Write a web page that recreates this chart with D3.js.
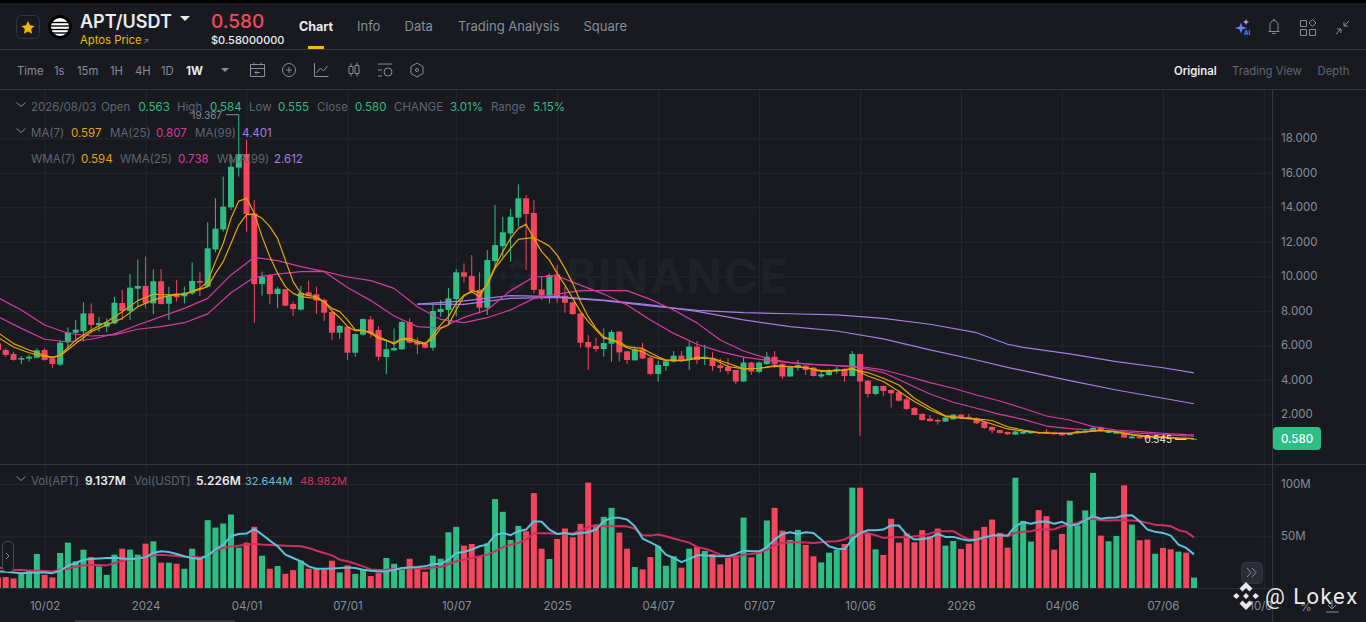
<!DOCTYPE html>
<html>
<head>
  <meta charset="utf-8">
  <style>
    html, body { margin: 0; padding: 0; background: #181a20; overflow: hidden; }
    svg { display: block; font-family: "Inter", "Roboto", sans-serif; }
    .axis path { display: none; }
    .axis line { stroke: none; }
    .axis text { fill: #848e9c; font-family: "Inter", sans-serif; font-size: 11.5px; }
    .grid path { display: none; }
    .grid line { stroke: #252830; stroke-width: 1; }
    .grid text { display: none; }
    .maline { fill: none; stroke-width: 1.2; stroke-linejoin: round; }
    .volline { fill: none; stroke-width: 2; stroke-linejoin: round; }
  </style>
  <script src="https://d3js.org/d3.v7.min.js"></script>
</head>
<body>
<script>
  // weekly candles, 2023-08-21 .. 2026-08-03
  var openValues = [
    6.11,5.73,5.50,5.17,5.23,5.28,5.73,5.25,4.88,6.17,
    6.73,6.81,7.85,7.16,7.08,7.27,8.45,7.99,9.28,9.44,
    8.43,9.71,8.41,9.01,8.84,9.01,9.73,9.40,11.56,12.72,
    14.0,16.30,17.09,13.65,9.55,10.06,8.97,9.26,8.39,8.07,
    9.07,8.96,8.63,7.93,6.73,7.08,5.57,6.62,7.50,6.89,
    5.32,5.71,5.77,7.35,6.23,6.11,5.86,7.93,8.05,8.68,
    10.23,10.02,9.21,8.18,10.89,11.75,12.49,13.40,14.52,13.67,
    9.24,8.91,10.11,8.88,8.49,7.85,6.19,5.96,5.78,6.09,
    6.79,5.65,5.13,5.77,5.28,4.34,4.80,5.05,5.40,5.15,
    5.92,5.23,5.25,4.84,4.75,4.57,3.90,5.0,4.46,4.92,
    5.34,4.92,4.19,4.73,4.82,4.71,4.19,4.28,4.51,4.63,
    4.22,5.50,3.95,3.18,3.64,3.41,3.28,2.87,2.37,2.02,
    1.75,1.67,1.58,1.71,1.98,1.85,1.75,1.54,1.27,1.09,
    .98,.82,.88,.90,.96,.99,.94,.92,.80,.90,
    .96,1.0,1.23,.92,.88,.92,.61,.72,.69,.60,
    .68,.64,.58,.62,.563
  ];
  var closeValues = [
    5.73,5.44,5.15,5.26,5.34,5.71,5.15,4.92,6.15,6.75,
    6.91,7.85,7.18,7.29,7.35,8.47,7.99,9.34,9.44,8.43,
    9.71,8.39,8.86,8.78,9.05,9.73,9.63,11.62,12.76,14.04,
    16.35,17.09,13.61,9.55,9.96,8.97,9.28,8.30,8.10,9.05,
    8.88,8.59,7.89,6.73,7.12,5.57,6.65,7.52,6.69,5.34,
    5.77,5.84,7.35,6.15,6.04,5.86,7.99,8.10,8.72,10.23,
    9.98,9.17,8.18,10.94,11.81,12.55,13.45,14.52,13.61,9.21,
    8.90,10.07,8.86,8.47,7.81,6.15,5.88,5.78,6.13,6.77,
    5.59,5.15,5.77,5.24,4.34,4.86,5.07,5.40,5.15,5.92,
    5.15,5.34,4.80,4.69,4.51,3.90,5.0,4.48,5.0,5.34,
    4.90,4.19,4.77,4.86,4.57,4.22,4.32,4.53,4.63,4.22,
    5.50,3.90,3.18,3.64,3.35,3.22,2.79,2.31,1.96,1.67,
    1.60,1.58,1.81,1.98,1.83,1.75,1.48,1.21,1.06,.92,
    .84,1.0,.99,.99,.90,.88,.84,.78,.90,1.03,
    1.05,1.21,1.03,1.03,.99,.65,.71,.61,.59,.66,
    .61,.58,.62,.563,.580
  ];
  var highValues = [
    6.21,5.83,5.63,5.38,5.46,5.83,5.83,5.34,6.31,7.04,
    7.47,8.49,8.43,7.66,7.56,8.82,9.21,10.13,10.98,11.14,
    10.40,10.42,9.40,9.79,9.40,10.81,10.23,13.13,14.52,15.78,
    17.03,19.367,17.90,14.42,10.27,10.13,9.40,9.26,8.53,9.44,
    9.75,9.40,8.72,7.95,7.18,7.08,6.69,7.56,7.70,7.12,
    6.31,6.98,7.43,7.56,6.46,6.21,8.34,8.63,9.32,10.42,
    10.75,11.23,10.23,11.52,14.13,13.45,13.90,15.33,14.71,14.42,
    9.98,10.17,10.65,9.40,8.53,7.85,6.60,6.44,6.98,6.89,
    6.83,5.67,5.92,6.15,5.34,5.11,5.15,5.67,5.67,6.21,
    6.25,6.02,5.60,5.25,5.25,4.57,5.31,5.04,5.06,5.62,
    5.67,5.0,4.82,5.15,4.86,4.75,4.48,4.63,4.77,4.67,
    5.67,5.50,3.99,3.66,3.66,3.45,3.41,2.99,2.41,2.06,
    1.96,1.75,1.87,2.02,2.02,2.02,1.81,1.58,1.33,1.11,
    1.0,1.04,1.09,1.05,.99,1.15,.99,.96,.94,1.07,
    1.09,1.27,1.29,1.07,1.03,.96,.75,.74,.72,.70,
    .71,.66,.65,.64,.584
  ];
  var lowValues = [
    5.63,5.34,5.11,4.90,5.05,5.25,5.11,4.70,4.80,5.83,
    6.37,6.23,6.70,6.79,6.75,7.22,7.47,7.47,8.24,8.14,
    7.80,8.37,7.47,8.53,8.43,8.92,8.86,9.36,11.39,12.59,
    13.84,15.78,12.59,7.31,8.88,8.39,8.14,8.26,7.70,8.01,
    8.82,7.82,7.41,6.31,6.37,5.15,5.34,6.56,6.44,5.11,
    4.34,5.67,5.73,6.11,5.50,5.82,5.69,7.66,7.18,7.66,
    9.63,9.01,7.85,7.76,10.46,11.10,10.85,12.88,10.36,9.01,
    8.62,8.43,8.47,7.89,7.77,5.86,4.57,5.63,5.34,5.05,
    5.05,4.92,5.11,5.19,4.26,3.89,4.53,5.01,5.03,4.57,
    4.90,4.86,4.53,4.44,4.32,3.76,3.88,4.28,4.38,4.86,
    4.67,4.05,4.17,4.53,4.28,4.19,4.09,4.24,4.34,3.88,
    4.19,0.75,2.97,3.10,3.07,2.39,2.74,2.25,1.94,1.63,
    1.58,1.40,1.56,1.67,1.79,1.71,1.44,1.15,.90,.88,
    .80,.80,.84,.86,.86,.86,.82,.76,.78,.88,
    .94,.98,1.01,.90,.86,.63,.59,.59,.58,.58,
    .59,.56,.56,.545,.555
  ];
  var volumeValues = [
    10.6,10.9,9.6,14.7,17,33,13.1,10.6,34,43.9,
    26,37.2,30.1,21.2,13.1,32.4,38.1,37.2,32.4,42.9,
    45.2,24.7,24.7,23.7,18.9,38.1,29.2,65.4,58.3,62.2,
    70.8,39.1,43.9,59,31.4,18.9,21.5,14.1,17.6,26.6,
    18.9,18.9,18.3,26.6,15.4,22.1,14.1,17.6,11.9,14.7,
    29.2,23.7,18.3,28.5,18.9,16,31.4,28.5,53.8,59,
    41,42.6,30.1,43.3,85.6,73.4,46.5,59.9,54.8,91.3,
    38.1,28.2,47.4,57.4,49,61.9,101.3,61.2,68.6,77.2,
    53.5,38.1,20.5,18.3,30.1,40.4,21.8,30.8,19.9,38.1,
    39.7,35.9,33,23.1,29.2,31.7,67.9,29.8,34,65.1,
    77.2,55.4,46.5,56.1,41.7,30.8,25,34.3,36.9,42.6,
    96.5,96.5,53.2,37.5,32.1,66.7,43.9,52.6,44.2,55.8,
    50,57.4,41,45.5,37.8,42.9,55.4,59,66,53.2,
    39.1,106,64.7,44.9,75,69.2,37.2,52.2,84,60.3,
    74.7,110.6,50.6,45.2,50.3,98.7,61.2,46.2,46.8,33.3,
    38.8,37.5,35.3,34.3,10.4
  ];
  var volMaShort = [
    16.3,16,15.4,14.7,15.1,15.4,15.4,14.7,17,21.8,
    24.4,27.6,28.2,28.8,29.2,29.5,28.8,28.2,28.8,29.8,
    34,35.6,34.9,33,30.8,29.2,28.2,31.7,37.2,42,
    50,52.2,52.6,57.1,51.6,45.8,40.4,32.4,29.2,26,
    21.2,18.9,18.9,19.2,19.6,20.2,19.6,17.9,17,16.3,
    16.3,17.9,19.6,20.2,20.5,21.2,23.4,23.4,27.6,34,
    34.9,37.2,40.4,42,51,53.2,51,54.8,56.4,64.4,
    63.8,56.4,52.2,53.2,51.6,53.2,53.8,56.4,64.4,67.6,
    67.6,66,59.6,47.8,44.2,40.4,32.4,29.2,25.3,28.2,
    31.7,31.7,31.1,30.8,30.8,33,36.2,35.6,35.6,39.4,
    46.8,52.2,53.8,52.2,53.8,53.2,46.8,40.4,38.1,37.8,
    46.8,53.2,55.8,55.8,56.4,60.3,60.3,51.6,46.8,47.4,
    48.4,52.2,49.4,49.4,47.4,45.8,46.8,49,50.6,51,
    50.6,59.6,63.5,61.9,63.8,64.1,61.9,63.8,60.3,61.2,
    65.4,69.2,66.7,67.6,67.9,69.9,70.2,64.4,56.4,54.2,
    53.2,50.6,42,38.8,32.644
  ];
  var volMaLong = [
    20.2,18.9,17.9,17.6,17.3,17,16.7,16.3,17.9,18.9,
    20.8,22.1,22.4,22.4,22.1,24.4,26.6,27.9,28.8,29.8,
    31.7,32.4,31.7,31.1,30.4,30.1,29.8,31.7,36.2,38.8,
    40.1,41,42,42.6,42,41.7,41.3,41,40.7,40.4,
    38.8,36.2,34,31.7,27.6,26,23.7,21.2,18.3,17.6,
    17.9,18.6,18.9,19.6,19.2,18.9,20.2,20.5,23.4,26,
    27.6,29.2,30.8,32.4,35.6,39.4,42,43.6,46.8,53.2,
    52.9,52.9,52.2,52.6,52.6,55.4,59,60.6,59.6,59.6,
    59.9,59.3,57.4,51,50.6,51.6,50,47.8,45.8,43.9,
    39.7,38.1,35.6,32.4,30.8,29.2,32.4,33,34,37.2,
    41.3,43.6,44.2,44.2,43.9,43.6,44.2,44.9,45.2,46.8,
    51,53.2,52.9,51,48.4,49,49,49,50,50.6,
    52.6,54.8,54.8,54.8,50.6,47.1,46.8,48.4,50,50.6,
    50,53.2,54.2,54.8,56.4,56.4,56.7,59.6,61.2,62.8,
    66,66.7,65.4,65.1,65.4,65.4,65.1,64.4,62.8,60.9,
    60.6,59.6,55.8,54.2,48.982
  ];

  // moving averages, at the weeks listed in each *Weeks array
  var fastWeeks = [0,2,4,6,7,8,10,12,14,16,18,20,22,24,26].concat(d3.range(27, 90), d3.range(90, 155, 2));
  var ma7Values = [
    6.73,6.1,5.73,5.42,5.3,5.38,6.1,6.79,7.18,7.56,8.24,8.63,8.88,8.97,9.24,
    9.40,10.17,10.85,11.9,12.97,13.57,13.61,13.36,12.88,12.2,10.94,9.69,9.01,8.88,8.82,8.53,8.14,7.95,7.47,
    6.9,6.89,6.69,6.4,6.27,6.15,6.40,6.40,6.25,6.11,6.40,6.98,7.18,8.05,8.86,9.17,9.05,9.49,10.46,11.04,
    11.62,12.14,12.2,12.24,12.0,11.75,11.23,10.46,9.59,8.53,7.66,6.98,6.5,6.3,6.21,5.92,5.86,5.82,5.57,5.34,
    5.15,5.11,5.11,5.15,
    5.25,5.25,4.96,4.63,4.67,4.82,4.77,4.71,4.53,4.53,4.61,4.42,4.09,3.70,2.93,2.39,1.91,1.81,1.73,1.64,
    1.28,1.09,.94,.90,.90,.98,1.05,.99,.84,.74,.69,.63,.597
  ];
  var wma7Values = [
    6.46,5.9,5.57,5.34,5.3,5.44,6.3,6.89,7.37,7.95,8.59,8.96,8.92,8.97,9.30,
    9.69,10.85,11.9,13.36,14.36,14.52,13.65,12.3,11.14,10.17,9.40,9.01,8.82,8.76,8.72,8.53,7.99,7.6,7.08,
    6.85,6.85,6.75,6.5,6.3,6.07,6.34,6.3,6.15,6.07,6.6,7.18,7.66,8.43,8.91,9.1,8.82,9.59,10.56,11.43,
    12.2,12.78,13.01,12.2,11.43,10.94,10.17,9.49,8.72,7.95,7.37,6.89,6.4,6.35,6.07,5.86,5.73,5.63,5.38,5.24,
    5.11,5.15,5.11,5.19,
    5.3,5.23,4.77,4.63,4.67,4.77,4.77,4.71,4.48,4.51,4.67,4.22,3.9,3.32,2.74,2.25,1.87,1.77,1.71,1.44,
    1.15,1.03,.94,.90,.90,1.0,1.09,.96,.80,.69,.65,.61,.594
  ];
  var midWeeks = d3.range(0, 154, 3).concat([154]);
  var ma25Values = [
    8.76,8.05,7.18,6.70,6.54,6.60,6.93,7.08,7.31,7.82,9.05,9.94,10.13,10.27,10.29,9.96,9.75,9.30,8.24,7.50,
    7.31,7.60,8.05,8.72,8.97,9.17,9.17,9.17,8.66,8.05,7.30,6.31,5.67,5.25,5.0,4.88,4.82,4.77,4.57,4.22,
    3.84,3.51,3.12,2.77,2.35,1.90,1.67,1.29,1.09,.99,.90,.82,.807
  ];
  var wma25Values = [
    7.66,6.98,6.35,6.19,6.35,6.66,7.18,7.66,8.14,8.72,10.08,11.10,10.91,10.56,10.27,9.35,8.59,7.70,7.08,7.0,
    7.62,8.05,9.17,9.96,10.02,9.49,8.97,8.34,7.47,6.69,6.06,5.63,5.31,5.13,5.0,4.9,4.82,4.71,4.42,3.80,
    3.18,2.70,2.35,2.0,1.71,1.32,1.17,1.09,1.03,.90,.82,.75,.738
  ];
  var slowWeeks = d3.range(54, 132, 6).concat([130, 132, 138, 144, 150, 154]);
  var ma99Values = [8.39,8.37,8.72,8.78,8.59,8.28,8.02,7.89,7.83,7.76,7.56,7.22,6.73,6.06,5.88,5.50,5.05,4.70,4.401];
  var wma99Values = [8.39,8.57,8.88,8.82,8.62,8.34,7.97,7.47,7.08,6.83,6.37,5.73,5.15,4.72,4.53,3.95,3.41,2.93,2.612];

  // axes
  var priceTicks = [2, 4, 6, 8, 10, 12, 14, 16, 18];
  var volumeTicks = [50, 100];
  var tickDates = ["2023-10-02","2024-01-01","2024-04-01","2024-07-01","2024-10-07","2025-01-06","2025-04-07","2025-07-07","2025-10-06","2026-01-05","2026-04-06","2026-07-06","2026-10-05"];
  var tickLabels = ["10/02","2024","04/01","07/01","10/07","2025","04/07","07/07","10/06","2026","04/06","07/06","10/05"];

  var upColor = "#2ebd85", downColor = "#f6465d";
  var yellow = "#e5a50a", pink = "#d63b9e", purple = "#a57be6";
  var width = 1366, height = 622, axisX = 1272;

  var weeks = d3.utcMonday.range(new Date("2023-08-21"), new Date("2026-08-04"));
  var candles = weeks.map(function(d, i) {
    return {date: d, open: openValues[i], close: closeValues[i], high: highValues[i], low: lowValues[i], vol: volumeValues[i]};
  });

  var xScale = d3.scaleUtc().domain([weeks[0], weeks[154]]).range([-2, 1194]);
  var yPrice = d3.scaleLinear().domain([2, 18]).range([414.3, 138.3]);
  var yVol = d3.scaleLinear().domain([0, 100]).range([588.5, 484]);
  var tickTimes = tickDates.map(function(d) { return new Date(d); });

  var svg = d3.select("body").append("svg").attr("width", width).attr("height", height);
  svg.append("rect").attr("width", width).attr("height", height).attr("fill", "#181a20");

  var defs = svg.append("defs");
  defs.append("clipPath").attr("id", "chartClip").append("rect")
    .attr("x", 0).attr("y", 90).attr("width", axisX).attr("height", 532);

  // grid
  var grid = svg.append("g").attr("clip-path", "url(#chartClip)");
  grid.append("g").attr("class", "grid").attr("transform", "translate(0,464)")
    .call(d3.axisBottom(xScale).tickValues(tickTimes).tickSize(-374));
  grid.append("g").attr("class", "grid").attr("transform", "translate(0,588)")
    .call(d3.axisBottom(xScale).tickValues(tickTimes).tickSize(-123));
  grid.append("g").attr("class", "grid").attr("transform", "translate(" + axisX + ",0)")
    .call(d3.axisLeft(yPrice).tickValues(priceTicks).tickSize(axisX));
  grid.append("g").attr("class", "grid").attr("transform", "translate(" + axisX + ",0)")
    .call(d3.axisLeft(yVol).tickValues(volumeTicks).tickSize(axisX));

  // watermark
  var wm = svg.append("g").attr("fill", "#1f2229");
  wm.append("text").attr("x", 566).attr("y", 293).attr("font-size", 46).attr("font-weight", 700)
    .attr("letter-spacing", 2).text("BINANCE");
  wm.append("path").attr("transform", "translate(517,277)")
    .attr("d", "M0-19 8-11 4-7 0-11-4-7-8-11ZM-14-5-10-1-14 3-18-1ZM14-5 18-1 14 3 10-1ZM0-5 4-1 0 3-4-1ZM0 17-8 9-4 5 0 9 4 5 8 9Z");

  var chart = svg.append("g").attr("clip-path", "url(#chartClip)");

  // wicks and bodies
  var candle = chart.selectAll(".candle").data(candles).enter().append("g")
    .attr("fill", function(d) { return d.close >= d.open ? upColor : downColor; });
  candle.append("rect")
    .attr("x", function(d) { return xScale(d.date) - 0.5; })
    .attr("y", function(d) { return yPrice(d.high); })
    .attr("width", 1)
    .attr("height", function(d) { return yPrice(d.low) - yPrice(d.high); });
  candle.append("rect")
    .attr("x", function(d) { return xScale(d.date) - 3; })
    .attr("y", function(d) { return yPrice(Math.max(d.open, d.close)); })
    .attr("width", 6)
    .attr("height", function(d) { return Math.max(1, Math.abs(yPrice(d.open) - yPrice(d.close))); });

  // moving averages
  function drawMa(indices, values, color) {
    var line = d3.line()
      .x(function(d) { return xScale(weeks[d]); })
      .y(function(d, i) { return yPrice(values[i]); });
    chart.append("path").attr("class", "maline").attr("stroke", color).attr("d", line(indices));
  }
  drawMa(slowWeeks, ma99Values, purple);
  drawMa(slowWeeks, wma99Values, purple);
  drawMa(midWeeks, ma25Values, pink);
  drawMa(midWeeks, wma25Values, pink);
  drawMa(fastWeeks, ma7Values, yellow);
  drawMa(fastWeeks, wma7Values, yellow);

  // volume
  chart.selectAll(".vol").data(candles).enter().append("rect")
    .attr("x", function(d) { return xScale(d.date) - 3; })
    .attr("y", function(d) { return yVol(d.vol); })
    .attr("width", 6)
    .attr("height", function(d) { return yVol(0) - yVol(d.vol); })
    .attr("fill", function(d) { return d.close >= d.open ? upColor : downColor; });

  function drawVolLine(values, color) {
    var line = d3.line()
      .x(function(d, i) { return xScale(weeks[i]); })
      .y(function(d) { return yVol(d); });
    chart.append("path").attr("class", "volline").attr("stroke", color).attr("d", line(values));
  }
  drawVolLine(volMaLong, "#cf2f5e");
  drawVolLine(volMaShort, "#5cc2dc");

  // high and low markers
  var highX = xScale(weeks[31]), lowX = xScale(weeks[153]);
  svg.append("text").attr("x", 222).attr("y", yPrice(19.367) + 4).attr("text-anchor", "end")
    .attr("font-size", 10).attr("fill", "#848e9c").text("19.367");
  svg.append("line").attr("x1", 226).attr("x2", highX).attr("y1", yPrice(19.367)).attr("y2", yPrice(19.367)).attr("stroke", "#848e9c");
  svg.append("text").attr("x", 1172).attr("y", yPrice(0.545) + 3.5).attr("text-anchor", "end")
    .attr("font-size", 10).attr("fill", "#eaecef").text("0.545");
  svg.append("line").attr("x1", 1175).attr("x2", lowX).attr("y1", yPrice(0.545)).attr("y2", yPrice(0.545)).attr("stroke", "#eaecef");

  // axes
  svg.append("g").attr("class", "axis").attr("transform", "translate(1281,0)")
    .call(d3.axisRight(yPrice).tickValues(priceTicks).tickSize(0).tickPadding(0).tickFormat(d3.format(".3f")));
  svg.append("g").attr("class", "axis").attr("transform", "translate(1281,0)")
    .call(d3.axisRight(yVol).tickValues(volumeTicks).tickSize(0).tickPadding(0).tickFormat(function(d) { return d + "M"; }));
  chart.append("g").attr("class", "axis").attr("transform", "translate(0,601.5)")
    .call(d3.axisBottom(xScale).tickValues(tickTimes).tickSize(0).tickPadding(0).tickFormat(function(d, i) { return tickLabels[i]; }));

  // frame lines
  function frameLine(x1, y1, x2, y2, color) {
    svg.append("line").attr("x1", x1).attr("y1", y1).attr("x2", x2).attr("y2", y2).attr("stroke", color);
  }
  svg.append("rect").attr("width", width).attr("height", 3).attr("fill", "#000");
  frameLine(0, 49.5, width, 49.5, "#33363d");
  frameLine(0, 89.5, width, 89.5, "#33363d");
  frameLine(0, 464.5, width, 464.5, "#33363d");
  frameLine(0, 588.5, axisX, 588.5, "#2b2e35");
  frameLine(axisX + 0.5, 90, axisX + 0.5, height, "#33363d");
  svg.append("rect").attr("x", 75).attr("y", 620).attr("width", 160).attr("height", 2).attr("fill", "#33363d");

  // text helper
  function label(x, y, str, color, size, weight) {
    return svg.append("text").attr("x", x).attr("y", y).attr("fill", color)
      .attr("font-size", size || 11.5).attr("font-weight", weight || 400).text(str);
  }

  // header
  var gray = "#848e9c", dim = "#5e6673", white = "#eaecef", gold = "#f0b90b";
  svg.append("rect").attr("x", 16.5).attr("y", 15.5).attr("width", 23).attr("height", 23).attr("rx", 5)
    .attr("fill", "none").attr("stroke", "#33363d");
  svg.append("path").attr("transform", "translate(28,27.5)").attr("fill", gold)
    .attr("d", "M0-6.5 2-2.2 6.5-1.6 3.2 1.6 4 6.2 0 4 -4 6.2 -3.2 1.6 -6.5-1.6 -2-2.2Z");
  svg.append("circle").attr("cx", 60).attr("cy", 27).attr("r", 12).attr("fill", "#000");
  svg.append("circle").attr("cx", 60).attr("cy", 27).attr("r", 9).attr("fill", "#fff");
  [22.5, 26, 29.5, 33].forEach(function(y) {
    svg.append("line").attr("x1", 51).attr("x2", 69).attr("y1", y).attr("y2", y).attr("stroke", "#000").attr("stroke-width", 1.4);
  });
  label(80, 28, "APT/USDT", "#eaecef", 18, 600);
  svg.append("path").attr("fill", white).attr("d", "M180 16h10l-5 5Z");
  label(80, 44, "Aptos Price", gold, 11.3);
  label(143, 44, "\u2197", gray, 8);
  label(211, 28, "0.580", downColor, 19, 500);
  label(211, 44, "$0.58000000", white, 11, 500);
  label(299, 31, "Chart", white, 12.5, 700);
  label(357, 31, "Info", gray, 13);
  label(404.5, 31, "Data", gray, 13);
  label(458, 31, "Trading Analysis", gray, 13);
  label(583.5, 31, "Square", gray, 13);
  svg.append("rect").attr("x", 308).attr("y", 46).attr("width", 16).attr("height", 3).attr("fill", gold);

  // right header icons
  var icon = svg.append("g").attr("fill", "none").attr("stroke", gray).attr("stroke-width", 1);
  icon.append("path").attr("d", "M1268.500 31.500h11M1270 31.500v-6a4 5 0 0 1 8 0v6M1272 33.500h4M1274 19v1.500");
  icon.append("path").attr("d", "M1300.500 20.500h6v6h-6ZM1312.500 19.500l3.500 3.500-3.500 3.500-3.500-3.500ZM1300.500 29.500h6v6h-6ZM1309.500 29.500h6v6h-6Z");
  icon.append("path").attr("d", "M1336 34l5-5M1337 29h4v4M1349 21l-5 5M1344 22v4h4");
  svg.append("path").attr("fill", "#5f83f0").attr("d", "M1241 22.500 1242.500 26.500 1247 28 1242.500 29.500 1241 33.500 1239.500 29.500 1235 28 1239.500 26.500Z");
  svg.append("path").attr("fill", "#c985f0").attr("d", "M1246 19 1247 21 1249 22 1247 23 1246 25 1245 23 1243 22 1245 21Z");
  label(1244, 35, "AI", "#5f83f0", 6, 700);

  // toolbar
  [[17,"Time"],[54,"1s"],[77,"15m"],[110,"1H"],[135,"4H"],[161,"1D"]].forEach(function(t) {
    label(t[0], 75, t[1], gray, 11.3);
  });
  label(186, 75, "1W", white, 11.5, 700);
  svg.append("path").attr("fill", gray).attr("d", "M221 68h8l-4 4Z");
  label(1174, 75, "Original", white, 11.3, 600);
  label(1232, 75, "Trading View", dim, 11.3);
  label(1317.5, 75, "Depth", dim, 11.3);

  var tool = svg.append("g").attr("fill", "none").attr("stroke", gray).attr("stroke-width", 1);
  tool.append("path").attr("d", "M250.500 64.500h14v12h-14ZM250.500 68.500h14M254 62.500v3M261 62.500v3M260 72.500h-5M257 70.500l-2 2 2 2");
  tool.append("circle").attr("cx", 289).attr("cy", 70).attr("r", 6.5);
  tool.append("path").attr("d", "M286 70h6M289 67v6");
  tool.append("path").attr("d", "M314.500 63v13.500h14M316.500 73l4-5 3 3 4-5");
  tool.append("path").attr("d", "M349 66.500h4v7h-4ZM355 65.500h4v8h-4ZM351 63.500v3M351 73.500v3M357 62.500v3M357 73.500v3");
  tool.append("path").attr("d", "M378 64h14M378 76h4M378 70h4");
  tool.append("circle").attr("cx", 388).attr("cy", 72).attr("r", 4);
  tool.append("path").attr("d", "M417 63l6 3.500v7l-6 3.500-6-3.500v-7Z");
  tool.append("circle").attr("cx", 417).attr("cy", 70).attr("r", 1.5);

  // legends
  function chevron(y) {
    svg.append("path").attr("fill", "none").attr("stroke", gray).attr("d", "M16.500 " + (y - 2.5) + "l4.500 4 4.500-4");
  }
  chevron(105); chevron(131); chevron(479);
  var rowOne = [[31,"2026/08/03",dim],[101,"Open",dim],[138.5,"0.563",upColor],[177,"High",dim],[210,"0.584",upColor],
    [249,"Low",dim],[278,"0.555",upColor],[317,"Close",dim],[355,"0.580",upColor],[394,"CHANGE",dim],[450,"3.01%",upColor],
    [491,"Range",dim],[533,"5.15%",upColor]];
  rowOne.forEach(function(t) { label(t[0], 111, t[1], t[2]); });
  var rowTwo = [[31,"MA(7)",dim],[71,"0.597",yellow],[110,"MA(25)",dim],[156,"0.807",pink],[195,"MA(99)",dim],[242,"4.401",purple]];
  rowTwo.forEach(function(t) { label(t[0], 137, t[1], t[2]); });
  var rowThree = [[31,"WMA(7)",dim],[81,"0.594",yellow],[120,"WMA(25)",dim],[178,"0.738",pink],[217,"WMA(99)",dim],[274,"2.612",purple]];
  rowThree.forEach(function(t) { label(t[0], 163, t[1], t[2]); });
  label(31, 485, "Vol(APT)", dim);
  label(85, 485, "9.137M", white, 12, 600);
  label(134, 485, "Vol(USDT)", dim);
  label(196, 485, "5.226M", white, 12, 600);
  label(245, 485, "32.644M", "#5cc2dc", 11);
  label(300, 485, "48.982M", "#cf2f5e", 11);

  // last price badge
  svg.append("rect").attr("x", 1273).attr("y", 427).attr("width", 48).attr("height", 23).attr("rx", 4).attr("fill", upColor);
  svg.append("text").attr("x", 1297).attr("y", 443).attr("text-anchor", "middle").attr("fill", "#fff")
    .attr("font-size", 11.5).attr("font-weight", 500).text("0.580");

  // pane buttons
  svg.append("rect").attr("x", 2.5).attr("y", 541.5).attr("width", 11).attr("height", 30).attr("rx", 4)
    .attr("fill", "#181a20").attr("stroke", "#474d57");
  svg.append("path").attr("fill", "none").attr("stroke", gray).attr("d", "M6 553l3 3-3 3");
  svg.append("rect").attr("x", 1241.5).attr("y", 562.5).attr("width", 21).attr("height", 21).attr("rx", 4)
    .attr("fill", "#2a2d35").attr("stroke", "#33363d");
  svg.append("path").attr("fill", "none").attr("stroke", gray).attr("d", "M1247 568l4 4.500-4 4.500M1252 568l4 4.500-4 4.500");

  // percent and download, under the stamp
  label(1300, 611, "%", gray, 12);
  svg.append("path").attr("fill", "none").attr("stroke", gray).attr("d", "M1332 600v9M1328 605l4 4 4-4M1326 612h13");

  // Lokex stamp
  var stamp = svg.append("g").attr("fill", "#e8e8e8");
  stamp.append("path").attr("transform", "translate(1246,596)")
    .attr("d", "M0-14 6.500-7.500 3.500-4.500 0-8-3.500-4.500-6.500-7.500ZM-9.500-3-6.500 0-9.500 3-13 0ZM9.500-3 13 0 9.500 3 6.500 0ZM0-3 3 0 0 3-3 0ZM0 14-6.500 7.500-3.500 4.500 0 8 3.500 4.500 6.500 7.500Z");
  stamp.append("text").attr("x", 1265).attr("y", 604).attr("font-size", 22).attr("font-family", "Roboto").attr("letter-spacing", 1.5).text("@ Lokex");
</script>
</body>
</html>
